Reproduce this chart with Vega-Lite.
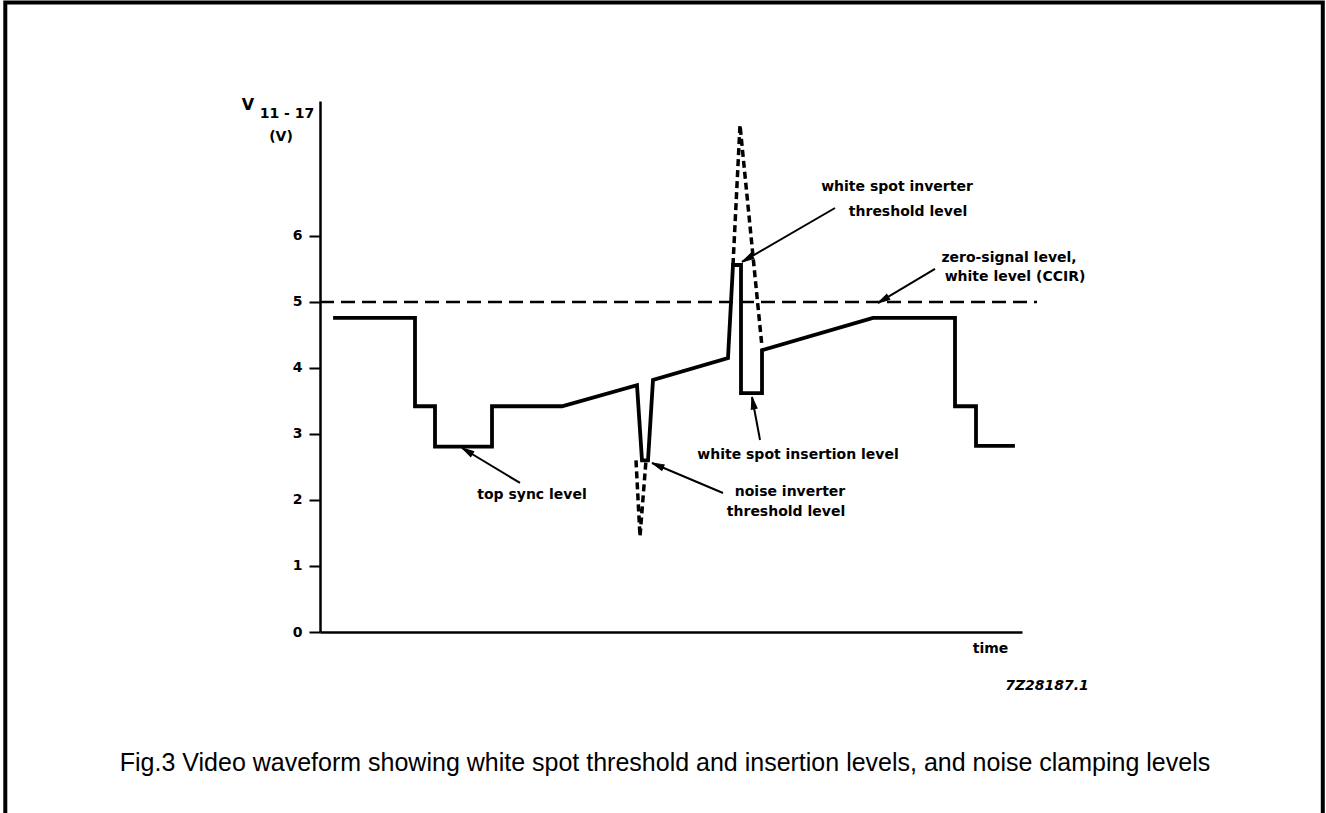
{
  "$schema": "https://vega.github.io/schema/vega-lite/v6.json",
  "width": 702,
  "height": 531,
  "autosize": {"type": "none"},
  "padding": {"left": 320, "top": 101, "right": 304, "bottom": 181},
  "background": "white",
  "config": {"view": {"stroke": null}, "axis": {"grid": false}},
  "datasets": {
    "frame": [{"x": -314.7, "x2": 1002.8, "y": 9.538, "y2": -2.9}],
    "wave": [
      {"ord": 1, "x": 15, "y": 4.76},
      {"ord": 2, "x": 95, "y": 4.76},
      {"ord": 3, "x": 95, "y": 3.42},
      {"ord": 4, "x": 115, "y": 3.42},
      {"ord": 5, "x": 115, "y": 2.81},
      {"ord": 6, "x": 172, "y": 2.81},
      {"ord": 7, "x": 172, "y": 3.42},
      {"ord": 8, "x": 242, "y": 3.42},
      {"ord": 9, "x": 317, "y": 3.74},
      {"ord": 10, "x": 322, "y": 2.6},
      {"ord": 11, "x": 328, "y": 2.6},
      {"ord": 12, "x": 333, "y": 3.82},
      {"ord": 13, "x": 408, "y": 4.15},
      {"ord": 14, "x": 413, "y": 5.56},
      {"ord": 15, "x": 421, "y": 5.56},
      {"ord": 16, "x": 421, "y": 3.62},
      {"ord": 17, "x": 442, "y": 3.62},
      {"ord": 18, "x": 442, "y": 4.27},
      {"ord": 19, "x": 553, "y": 4.76},
      {"ord": 20, "x": 635, "y": 4.76},
      {"ord": 21, "x": 635, "y": 3.42},
      {"ord": 22, "x": 656, "y": 3.42},
      {"ord": 23, "x": 656, "y": 2.82},
      {"ord": 24, "x": 693, "y": 2.82}
    ],
    "spikes": [
      {"seg": "noise", "ord": 1, "x": 316, "y": 2.6},
      {"seg": "noise", "ord": 2, "x": 320, "y": 1.45},
      {"seg": "noise", "ord": 3, "x": 326, "y": 2.6},
      {"seg": "white", "ord": 1, "x": 413, "y": 5.56},
      {"seg": "white", "ord": 2, "x": 420, "y": 7.68},
      {"seg": "white", "ord": 3, "x": 442, "y": 4.32}
    ],
    "level": [{"x": 0, "x2": 717, "y": 5}],
    "arrows": [
      {"name": "top sync", "x": 142, "y": 2.788, "x2": 200, "y2": 2.258},
      {"name": "noise", "x": 332, "y": 2.561, "x2": 403, "y2": 2.106},
      {"name": "insertion", "x": 432, "y": 3.561, "x2": 440, "y2": 2.909},
      {"name": "inverter", "x": 422, "y": 5.606, "x2": 515, "y2": 6.424},
      {"name": "zero", "x": 558, "y": 4.985, "x2": 615, "y2": 5.5}
    ],
    "annot": [
      {"label": "white spot inverter", "x": 577, "y": 6.742},
      {"label": "threshold level", "x": 588, "y": 6.364},
      {"label": "zero-signal level,", "x": 689, "y": 5.667},
      {"label": "white level (CCIR)", "x": 695, "y": 5.379},
      {"label": "white spot insertion level", "x": 478, "y": 2.682},
      {"label": "noise inverter", "x": 470, "y": 2.121},
      {"label": "threshold level", "x": 466, "y": 1.818},
      {"label": "top sync level", "x": 212, "y": 2.076}
    ],
    "ybig": [{"label": "V", "x": -72, "y": 7.985}],
    "ysmall": [
      {"label": "11 - 17", "x": -33, "y": 7.848},
      {"label": "(V)", "x": -39, "y": 7.5}
    ],
    "code": [{"label": "7Z28187.1", "x": 727, "y": -0.818}],
    "caption": [{"label": "Fig.3  Video waveform showing white spot threshold and insertion levels, and noise clamping levels", "x": 345, "y": -1.985}]
  },
  "encoding": {
    "x": {
      "field": "x",
      "type": "quantitative",
      "scale": {"domain": [0, 702], "nice": false, "zero": false},
      "axis": {
        "title": "time",
        "ticks": false,
        "labels": false,
        "grid": false,
        "domainWidth": 2.5,
        "domainColor": "black",
        "titleFont": "DejaVu Sans",
        "titleFontWeight": "bold",
        "titleFontSize": 14,
        "titleColor": "black",
        "titleX": 670,
        "titleY": 16,
        "titleAlign": "center",
        "titleBaseline": "middle"
      }
    },
    "y": {
      "field": "y",
      "type": "quantitative",
      "scale": {"domain": [0, 8.045], "nice": false, "zero": false},
      "axis": {
        "title": null,
        "values": [0, 1, 2, 3, 4, 5, 6],
        "grid": false,
        "tickSize": 11,
        "tickWidth": 2,
        "tickColor": "black",
        "domainWidth": 2.5,
        "domainColor": "black",
        "labelFont": "DejaVu Sans",
        "labelFontWeight": "bold",
        "labelFontSize": 14,
        "labelColor": "black",
        "labelPadding": 7
      }
    }
  },
  "layer": [
    {
      "data": {"name": "frame"},
      "mark": {"type": "rect", "fill": "white", "fillOpacity": 0, "stroke": "black", "strokeWidth": 4},
      "encoding": {"x2": {"field": "x2"}, "y2": {"field": "y2"}}
    },
    {
      "data": {"name": "level"},
      "mark": {"type": "rule", "color": "black", "strokeWidth": 2.5, "strokeDash": [14, 7]},
      "encoding": {"x2": {"field": "x2"}}
    },
    {
      "data": {"name": "spikes"},
      "mark": {"type": "line", "color": "black", "strokeWidth": 3.5, "strokeDash": [7, 4]},
      "encoding": {"detail": {"field": "seg"}, "order": {"field": "ord"}}
    },
    {
      "data": {"name": "wave"},
      "mark": {"type": "line", "color": "black", "strokeWidth": 3.8, "strokeJoin": "miter", "strokeCap": "square"},
      "encoding": {"order": {"field": "ord"}}
    },
    {
      "data": {"name": "arrows"},
      "mark": {"type": "rule", "color": "black", "strokeWidth": 2},
      "encoding": {"x2": {"field": "x2"}, "y2": {"field": "y2"}}
    },
    {
      "data": {"name": "arrows"},
      "transform": [{"calculate": "atan2(datum.x - datum.x2, (datum.y - datum.y2) * 66) * 180 / PI", "as": "angle"}],
      "mark": {"type": "point", "shape": "M0,0L0.6,2.4L-0.6,2.4Z", "filled": true, "fill": "black", "stroke": "black", "strokeWidth": 1, "size": 100, "fillOpacity": 1},
      "encoding": {"angle": {"field": "angle", "type": "quantitative", "scale": null}}
    },
    {
      "data": {"name": "annot"},
      "mark": {"type": "text", "font": "DejaVu Sans", "fontWeight": "bold", "fontSize": 14, "color": "black", "align": "center", "baseline": "middle"},
      "encoding": {"text": {"field": "label"}}
    },
    {
      "data": {"name": "ybig"},
      "mark": {"type": "text", "font": "DejaVu Sans", "fontWeight": "bold", "fontSize": 16, "color": "black", "align": "center", "baseline": "middle"},
      "encoding": {"text": {"field": "label"}}
    },
    {
      "data": {"name": "ysmall"},
      "mark": {"type": "text", "font": "DejaVu Sans", "fontWeight": "bold", "fontSize": 14, "color": "black", "align": "center", "baseline": "middle"},
      "encoding": {"text": {"field": "label"}}
    },
    {
      "data": {"name": "code"},
      "mark": {"type": "text", "font": "DejaVu Sans", "fontWeight": "bold", "fontStyle": "italic", "fontSize": 14, "color": "black", "align": "center", "baseline": "middle"},
      "encoding": {"text": {"field": "label"}}
    },
    {
      "data": {"name": "caption"},
      "mark": {"type": "text", "font": "Liberation Sans", "fontSize": 25, "color": "black", "align": "center", "baseline": "middle"},
      "encoding": {"text": {"field": "label"}}
    }
  ]
}
